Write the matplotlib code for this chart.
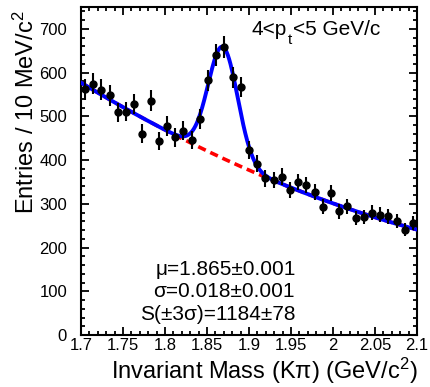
import numpy as np
import matplotlib
matplotlib.use('Agg')
import matplotlib.pyplot as plt
from matplotlib.ticker import MultipleLocator
from matplotlib.transforms import offset_copy

plt.rcParams['font.family'] = ['Liberation Sans', 'DejaVu Sans']
plt.rcParams['mathtext.fontset'] = 'custom'
plt.rcParams['mathtext.rm'] = 'Liberation Sans'
plt.rcParams['mathtext.it'] = 'Liberation Sans:italic'
plt.rcParams['mathtext.bf'] = 'Liberation Sans:bold'

# ---- data ----
mass = [1.7049, 1.7146, 1.7244, 1.7341, 1.7439, 1.7537, 1.7634, 1.7732, 1.7829, 1.7927,
        1.8024, 1.8122, 1.8220, 1.8317, 1.8415, 1.8512, 1.8610, 1.8707, 1.8805, 1.8902,
        1.9000, 1.9098, 1.9195, 1.9293, 1.9390, 1.9488, 1.9585, 1.9683, 1.9780, 1.9878,
        1.9976, 2.0073, 2.0171, 2.0268, 2.0366, 2.0463, 2.0561, 2.0659, 2.0756, 2.0854,
        2.0951]
counts = [562, 575, 561, 548, 509, 511, 528, 460, 536, 444,
          478, 452, 467, 446, 494, 582, 640, 659, 589, 567,
          423, 392, 358, 354, 362, 331, 350, 343, 327, 293,
          325, 283, 294, 267, 270, 280, 275, 271, 261, 241,
          256]

# fit parameters (estimated from drawn curves)
bkg_c0, bkg_c1, bkg_c2, bkg_ref = 377.0, -840.0, 800.0, 1.9
sig_amp, sig_mu, sig_sigma = 255.0, 1.869, 0.0175

xticks = [1.7, 1.75, 1.8, 1.85, 1.9, 1.95, 2.0, 2.05, 2.1]
xticklabels = ['1.7', '1.75', '1.8', '1.85', '1.9', '1.95', '2', '2.05', '2.1']
yticks = [0, 100, 200, 300, 400, 500, 600, 700]

stats_lines = ['\u03bc=1.865\u00b10.001', '\u03c3=0.018\u00b10.001', 'S(\u00b13\u03c3)=1184\u00b178']
header_parts = ['4<p', 't', '<5 GeV/c']

# ---- figure ----
W, H = 430, 387
fig = plt.figure(figsize=(W/100, H/100), dpi=100)
ax = fig.add_axes([81/W, 1-335/H, 336/W, 328/H])

xs = np.linspace(1.7, 2.1, 500)
bkg = bkg_c0 + bkg_c1*(xs-bkg_ref) + bkg_c2*(xs-bkg_ref)**2
tot = bkg + sig_amp*np.exp(-0.5*((xs-sig_mu)/sig_sigma)**2)

ax.plot(xs, bkg, color='#ff0000', lw=2.6, ls=(0, (2.3, 1.4)), zorder=2)
ax.plot(xs, tot, color='#0000ff', lw=2.8, zorder=3)

c = np.array(counts, dtype=float)
ax.errorbar(mass, c, yerr=np.sqrt(c), fmt='o', color='black', ms=5,
            elinewidth=1.5, capsize=0, zorder=4)

ax.set_xlim(1.7, 2.1)
ax.set_ylim(0, 750)
ax.set_xticks(xticks)
ax.set_xticklabels(xticklabels)
ax.set_yticks(yticks)
ax.xaxis.set_minor_locator(MultipleLocator(0.01))
ax.yaxis.set_minor_locator(MultipleLocator(20))
ax.tick_params(which='both', direction='in', top=True, right=True, width=1.3,
               labelsize=12)
ax.tick_params(which='major', length=6)
ax.tick_params(which='minor', length=3)
ax.tick_params(axis='x', pad=2)
ax.tick_params(axis='y', pad=10)
for s in ax.spines.values():
    s.set_linewidth(1.5)

# header with ROOT-style lowered subscript
renderer = fig.canvas.get_renderer()
t1 = fig.text(252/W, 1-35/H, header_parts[0], ha='left', va='baseline', fontsize=15)
bb = t1.get_window_extent(renderer)
t2 = fig.text(bb.x1/W + 1/W, 1-44/H, header_parts[1], ha='left', va='baseline', fontsize=11)
bb2 = t2.get_window_extent(renderer)
fig.text(bb2.x1/W + 0.5/W, 1-35/H, header_parts[2], ha='left', va='baseline', fontsize=15)

centers = [226, 224, 217.5]
bases = [275, 297, 320]
for t, cx, by in zip(stats_lines, centers, bases):
    fig.text(cx/W, 1-by/H, t, ha='center', va='baseline', fontsize=15)

fig.text(26/W, 1-10/H, r'Entries / 10 MeV/c$^{2}$', rotation=90,
         ha='center', va='top', fontsize=17)
fig.text(418/W, 1-379/H, 'Invariant Mass (K\u03c0) (GeV/c$^{2}$)',
         ha='right', va='baseline', fontsize=17)

fig.savefig('out.png', dpi=100)
